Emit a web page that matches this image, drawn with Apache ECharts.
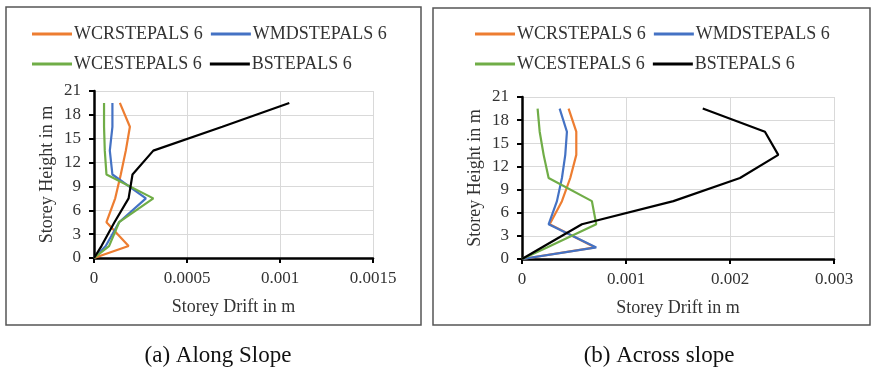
<!DOCTYPE html>
<html>
<head>
<meta charset="utf-8">
<style>
html, body { margin: 0; padding: 0; background: #fff; }
#chart { width: 872px; height: 367px; }
</style>
<script src="https://cdn.jsdelivr.net/npm/echarts@6/dist/echarts.min.js"></script>
</head>
<body>
<div id="chart"></div>
<script>
// storey heights (m) shared by both panels
var heights = [0, 1.5, 4.5, 7.5, 10.5, 13.5, 16.5, 19.5]
var seriesNames = ['WCRSTEPALS 6', 'WMDSTEPALS 6', 'WCESTEPALS 6', 'BSTEPALS 6']
var colors = ['#ED7D31', '#4472C4', '#70AD47', '#000000']

// (a) along slope - storey drift in m
var alongWCR = [0, 0.000186, 0.000067, 0.000114, 0.000144, 0.000171, 0.000193, 0.000139]
var alongWMD = [0, 0.000063, 0.000135, 0.000279, 0.000099, 0.000085, 0.000099, 0.000099]
var alongWCE = [0, 0.000081, 0.000135, 0.000319, 0.000067, 0.000058, 0.000054, 0.000054]
var alongB = [0, 0.00004, 0.00011, 0.000186, 0.000207, 0.000319, 0.00069, 0.00105]

// (b) across slope - storey drift in m
var acrossWCR = [0, 0.000704, 0.000266, 0.000384, 0.000464, 0.000522, 0.000522, 0.000448]
var acrossWMD = [0, 0.000714, 0.000256, 0.000336, 0.000384, 0.000416, 0.000432, 0.000362]
var acrossWCE = [0, 0.00024, 0.000714, 0.000672, 0.000256, 0.000208, 0.00017, 0.00015]
var acrossB = [0, 0.00019, 0.000576, 0.001456, 0.002096, 0.002464, 0.002336, 0.001738]

var font = 'Liberation Serif'
var txt = '#333'

function pairs (drift) {
  return drift.map(function (d, i) { return [d, heights[i]] })
}

function makeSeries (list, idx) {
  return list.map(function (d, i) {
    return {
      name: seriesNames[i],
      type: 'line',
      xAxisIndex: idx,
      yAxisIndex: idx,
      symbol: 'none',
      data: pairs(d),
      lineStyle: { width: 2.2, color: colors[i] },
      itemStyle: { color: colors[i] }
    }
  })
}

function xAxisOf (idx, max, interval, digits) {
  return {
    gridIndex: idx,
    type: 'value',
    min: 0,
    max: max,
    interval: interval,
    name: 'Storey Drift in m',
    nameLocation: 'middle',
    nameGap: 40,
    nameTextStyle: { fontFamily: font, fontSize: 18, color: txt },
    axisLine: { lineStyle: { color: '#000', width: 2.5 } },
    axisTick: { show: true, length: 5, lineStyle: { color: '#000', width: 2 } },
    axisLabel: {
      fontFamily: font, fontSize: 17, color: txt, margin: 12,
      formatter: function (v) { return v === 0 ? '0' : String(+v.toFixed(digits)) }
    },
    splitLine: { show: true, lineStyle: { color: '#d9d9d9', width: 1 } }
  }
}

function yAxisOf (idx) {
  return {
    gridIndex: idx,
    type: 'value',
    min: 0,
    max: 21,
    interval: 3,
    name: 'Storey Height in m',
    nameLocation: 'middle',
    nameGap: 38,
    nameTextStyle: { fontFamily: font, fontSize: 18, color: txt },
    axisLine: { show: true, lineStyle: { color: '#000', width: 2.5 } },
    axisTick: { show: true, length: 5, lineStyle: { color: '#000', width: 2 } },
    axisLabel: { fontFamily: font, fontSize: 17, color: txt, margin: 13 },
    splitLine: { show: true, lineStyle: { color: '#d9d9d9', width: 1 } }
  }
}

function legendOf (left) {
  return {
    left: left,
    top: 18,
    width: 380,
    icon: 'rect',
    itemWidth: 40,
    itemHeight: 3,
    itemGap: 8,
    data: seriesNames,
    textStyle: { fontFamily: font, fontSize: 18, color: txt, padding: [0, 0, 0, -3], lineHeight: 22 }
  }
}

var chart = echarts.init(document.getElementById('chart'))
chart.setOption({
  backgroundColor: '#fff',
  animation: false,
  legend: [legendOf(27), legendOf(470)],
  grid: [
    { left: 94, top: 91, width: 279, height: 167 },
    { left: 522, top: 97, width: 312, height: 162 }
  ],
  xAxis: [xAxisOf(0, 0.0015, 0.0005, 4), xAxisOf(1, 0.003, 0.001, 3)],
  yAxis: [yAxisOf(0), yAxisOf(1)],
  series: makeSeries([alongWCR, alongWMD, alongWCE, alongB], 0)
    .concat(makeSeries([acrossWCR, acrossWMD, acrossWCE, acrossB], 1)),
  title: [
    { text: '(a) Along Slope', left: 213, top: 339, textAlign: 'center',
      textStyle: { fontFamily: font, fontSize: 23, fontWeight: 'normal', color: '#111' } },
    { text: '(b) Across slope', left: 654, top: 339, textAlign: 'center',
      textStyle: { fontFamily: font, fontSize: 23, fontWeight: 'normal', color: '#111' } }
  ],
  graphic: [
    { type: 'rect', shape: { x: 6, y: 7, width: 415, height: 318 },
      style: { fill: 'none', stroke: '#555', lineWidth: 1.5 } },
    { type: 'rect', shape: { x: 433, y: 8, width: 437, height: 317 },
      style: { fill: 'none', stroke: '#555', lineWidth: 1.5 } }
  ]
})
</script>
</body>
</html>
